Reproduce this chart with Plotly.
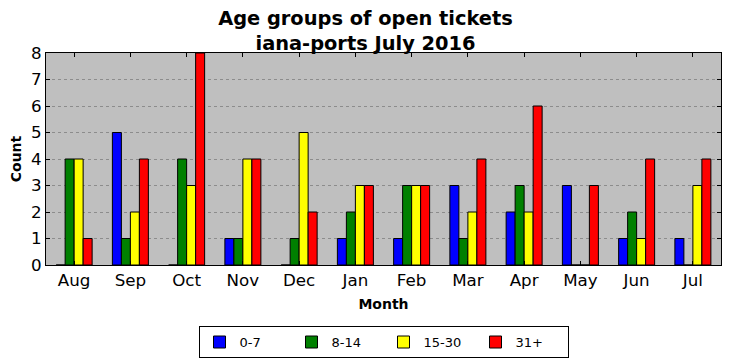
import plotly.graph_objects as go

months = ["Aug", "Sep", "Oct", "Nov", "Dec", "Jan", "Feb", "Mar", "Apr", "May", "Jun", "Jul"]
age_0_7 = [0, 5, 0, 1, 0, 1, 1, 3, 2, 3, 1, 1]
age_8_14 = [4, 1, 4, 1, 1, 2, 3, 1, 3, 0, 2, 0]
age_15_30 = [4, 2, 3, 4, 5, 3, 3, 2, 2, 0, 1, 3]
age_31_plus = [1, 4, 8, 4, 2, 3, 3, 4, 6, 3, 4, 4]

series = [
    ("0-7", age_0_7, "#0000ff"),
    ("8-14", age_8_14, "#008000"),
    ("15-30", age_15_30, "#ffff00"),
    ("31+", age_31_plus, "#ff0000"),
]

fig = go.Figure()
for name, vals, color in series:
    fig.add_trace(go.Bar(
        x=months, y=vals, name=name,
        marker=dict(color=color, line=dict(color="black", width=1)),
    ))

font = "DejaVu Sans, sans-serif"
fig.update_layout(
    width=731, height=361,
    margin=dict(l=46, r=10, t=53, b=96, autoexpand=False),
    barmode="group", bargap=0.36, bargroupgap=0,
    paper_bgcolor="white", plot_bgcolor="#bfbfbf",
    font=dict(family=font, size=12, color="black"),
    title=dict(
        text="<b>Age groups of open tickets<br>iana-ports July 2016</b>",
        x=0.5, xanchor="center", yref="container", y=0.93, yanchor="top",
        font=dict(size=19.4, family=font, color="black"),
    ),
    legend=dict(
        orientation="h", x=0.5, xanchor="center",
        yref="paper", y=-0.288, yanchor="top",
        bordercolor="black", borderwidth=1, bgcolor="white",
        font=dict(size=13, family=font),
        entrywidth=47, entrywidthmode="pixels",
        traceorder="normal",
    ),
    showlegend=True,
)
fig.update_xaxes(
    title=dict(text="<b>Month</b>", font=dict(size=14, family=font), standoff=10),
    showline=True, linecolor="black", linewidth=1, mirror="ticks",
    ticks="inside", ticklen=4, tickcolor="black", automargin=False,
    showgrid=False, tickfont=dict(size=16.7, family=font),
)
fig.update_yaxes(
    title=dict(text="<b>Count</b>", font=dict(size=14, family=font), standoff=6),
    range=[0, 8], dtick=1,
    showline=True, linecolor="black", linewidth=1, mirror="ticks",
    ticks="inside", ticklen=4, tickcolor="black", automargin=False,
    showgrid=True, gridcolor="#8c8c8c", griddash="dot", gridwidth=1,
    zeroline=False, tickfont=dict(size=16.7, family=font),
)

fig.write_html("out.html", config={"displayModeBar": False},
               post_script="document.body.style.margin='0';")
